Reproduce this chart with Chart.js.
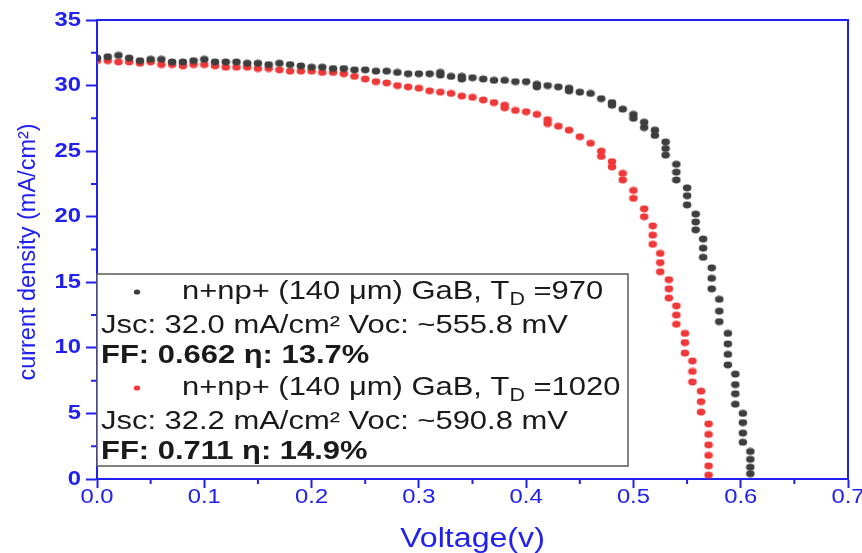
<!DOCTYPE html>
<html>
<head>
<meta charset="utf-8">
<script src="https://cdn.jsdelivr.net/npm/chart.js@4"></script>
<style>
html,body{margin:0;padding:0;background:#fff;}
#wrap{width:862px;height:553px;position:relative;}
</style>
</head>
<body>
<div id="wrap"><canvas id="c" width="862" height="553"></canvas></div>
<script>
// ---- data ----
const blackV = [0.000,0.010,0.020,0.030,0.040,0.050,0.060,0.070,0.080,0.090,0.100,0.110,0.120,0.130,0.140,0.150,0.160,0.170,0.180,0.190,0.200,0.210,0.220,0.230,0.240,0.250,0.260,0.270,0.280,0.290,0.300,0.310,0.320,0.320,0.330,0.340,0.340,0.350,0.360,0.370,0.380,0.390,0.400,0.410,0.410,0.420,0.430,0.440,0.440,0.450,0.460,0.470,0.480,0.480,0.490,0.500,0.500,0.510,0.510,0.520,0.520,0.530,0.530,0.530,0.540,0.540,0.540,0.550,0.550,0.550,0.558,0.558,0.558,0.565,0.565,0.565,0.573,0.573,0.573,0.580,0.580,0.580,0.588,0.588,0.588,0.588,0.595,0.595,0.595,0.595,0.602,0.602,0.602,0.602,0.609,0.609,0.609,0.609];
const blackJ = [32.1,32.2,32.3,32.1,31.9,32.0,32.0,31.8,31.8,31.9,32.0,31.8,31.8,31.8,31.7,31.7,31.6,31.7,31.6,31.5,31.4,31.4,31.3,31.3,31.2,31.2,31.1,31.1,31.0,30.9,30.9,30.9,30.8,31.0,30.7,30.7,30.5,30.6,30.5,30.4,30.4,30.3,30.3,30.1,29.9,30.0,29.9,29.8,29.6,29.5,29.4,29.0,28.7,28.5,28.2,27.8,27.5,27.2,26.8,26.6,26.2,25.7,25.2,24.7,24.0,23.4,22.8,22.2,21.6,20.9,20.2,19.6,19.0,18.3,17.6,16.9,16.1,15.3,14.5,13.7,12.8,12.0,11.1,10.3,9.5,8.7,8.0,7.2,6.5,5.7,5.0,4.3,3.5,2.8,2.1,1.5,0.9,0.4];

const redV = [0.000,0.010,0.020,0.030,0.040,0.050,0.060,0.070,0.080,0.090,0.100,0.110,0.120,0.130,0.140,0.150,0.160,0.170,0.180,0.190,0.200,0.210,0.220,0.230,0.240,0.250,0.260,0.270,0.280,0.290,0.300,0.310,0.320,0.330,0.340,0.350,0.360,0.370,0.380,0.380,0.390,0.400,0.410,0.420,0.420,0.430,0.440,0.450,0.460,0.470,0.470,0.480,0.480,0.490,0.490,0.500,0.500,0.510,0.510,0.518,0.518,0.518,0.525,0.525,0.525,0.533,0.533,0.533,0.540,0.540,0.540,0.548,0.548,0.548,0.555,0.555,0.555,0.563,0.563,0.563,0.570,0.570,0.570,0.570,0.570,0.570];
const redJ = [31.9,31.9,31.8,31.8,31.7,31.8,31.6,31.6,31.5,31.6,31.6,31.5,31.4,31.4,31.4,31.3,31.3,31.2,31.1,31.1,31.1,31.0,31.0,30.9,30.7,30.5,30.3,30.2,30.0,29.9,29.8,29.6,29.5,29.4,29.2,29.1,28.9,28.7,28.5,28.3,28.1,28.0,27.8,27.4,27.1,26.9,26.6,26.1,25.6,25.0,24.6,24.2,23.8,23.3,22.8,22.0,21.4,20.6,20.0,19.3,18.6,17.9,17.2,16.5,15.8,15.2,14.5,13.8,13.2,12.5,11.8,11.1,10.4,9.6,9.0,8.2,7.4,6.7,5.9,5.1,4.2,3.4,2.6,1.8,1.0,0.3];

const xTickLabels = ['0.0','0.1','0.2','0.3','0.4','0.5','0.6','0.7'];
const yTickLabels = ['0','5','10','15','20','25','30','35'];

const seriesNames = ['n+np+ (140 μm) GaB, T', 'n+np+ (140 μm) GaB, T'];
const seriesSubs = ['D', 'D'];
const seriesTails = [' =970', ' =1020'];
const statLines = ['Jsc: 32.0 mA/cm² Voc: ~555.8 mV', 'Jsc: 32.2 mA/cm² Voc: ~590.8 mV'];
const boldLines = ['FF: 0.662 η: 13.7%', 'FF: 0.711 η: 14.9%'];
const seriesColors = ['#3e3e3e', '#f03838'];

const xTitle = 'Voltage(v)';
const yTitle = 'current density (mA/cm²)';

const toPts = (v, j) => v.map((x, i) => ({x: x, y: j[i]}));

const AX = '#2020f0';
const FONT = '"Liberation Sans", Arial, sans-serif';
const SX = 1.19; // horizontal text stretch seen in the picture

function dot(color) {
  const c = document.createElement('canvas');
  c.width = 10; c.height = 8;
  const g = c.getContext('2d');
  g.fillStyle = color;
  g.beginPath(); g.ellipse(5, 4, 4.3, 3.4, 0, 0, Math.PI * 2); g.fill();
  return c;
}

function sText(ctx, t, x, y, align, font, color) {
  ctx.save();
  ctx.translate(x, y);
  ctx.scale(SX, 1);
  ctx.font = font;
  ctx.fillStyle = color;
  ctx.textAlign = align;
  ctx.textBaseline = 'middle';
  ctx.fillText(t, 0, 0);
  ctx.restore();
}

const axisDeco = {
  id: 'axisDeco',
  afterDraw(chart) {
    const ctx = chart.ctx, a = chart.chartArea;
    const xs = chart.scales.x, ys = chart.scales.y;
    ctx.save();
    ctx.strokeStyle = AX;
    ctx.lineWidth = 2;
    ctx.beginPath();
    ctx.moveTo(a.left, a.top); ctx.lineTo(a.right, a.top); ctx.lineTo(a.right, a.bottom);
    ctx.stroke();
    ctx.beginPath();
    for (let i = 0; i < xTickLabels.length - 1; i++) {
      const v = (parseFloat(xTickLabels[i]) + parseFloat(xTickLabels[i + 1])) / 2;
      const px = xs.getPixelForValue(v);
      ctx.moveTo(px, a.bottom); ctx.lineTo(px, a.bottom + 5);
    }
    for (let i = 0; i < yTickLabels.length - 1; i++) {
      const v = (parseFloat(yTickLabels[i]) + parseFloat(yTickLabels[i + 1])) / 2;
      const py = ys.getPixelForValue(v);
      ctx.moveTo(a.left, py); ctx.lineTo(a.left - 6, py);
    }
    ctx.stroke();
    ctx.restore();
    // tick labels
    xTickLabels.forEach(l => sText(ctx, l, xs.getPixelForValue(parseFloat(l)), 497, 'center', '20px ' + FONT, AX));
    yTickLabels.forEach(l => sText(ctx, l, 81, ys.getPixelForValue(parseFloat(l)), 'right', 'bold 20px ' + FONT, AX));
    // titles
    sText(ctx, xTitle, (a.left + a.right) / 2, 540, 'center', '27px ' + FONT, AX);
    ctx.save();
    ctx.translate(29, 252);
    ctx.rotate(-Math.PI / 2);
    ctx.font = '23.5px ' + FONT;
    ctx.fillStyle = AX;
    ctx.textAlign = 'center';
    ctx.textBaseline = 'middle';
    ctx.fillText(yTitle, 0, 0);
    ctx.restore();
  }
};

const legendBox = {
  id: 'legendBox',
  afterDraw(chart) {
    const ctx = chart.ctx;
    const bx = 97, by = 274, bw = 531, bh = 192;
    ctx.save();
    ctx.fillStyle = '#fff';
    ctx.fillRect(bx, by, bw, bh);
    ctx.strokeStyle = '#5a5a5a';
    ctx.lineWidth = 1.5;
    ctx.strokeRect(bx, by, bw, bh);
    ctx.restore();
    const rowY = [[292, 326, 356], [388, 422, 452]];
    const TXT = '#1a1a1a';
    for (let s = 0; s < 2; s++) {
      const [y0, y1, y2] = rowY[s];
      ctx.save();
      ctx.fillStyle = seriesColors[s];
      ctx.beginPath(); ctx.ellipse(137, y0, 3.2, 2.6, 0, 0, Math.PI * 2); ctx.fill();
      ctx.restore();
      let x = 182;
      ctx.save(); ctx.font = '26px ' + FONT;
      const w1 = ctx.measureText(seriesNames[s]).width * SX;
      ctx.font = '18px ' + FONT;
      const w2 = ctx.measureText(seriesSubs[s]).width * SX;
      ctx.restore();
      sText(ctx, seriesNames[s], x, y0, 'left', '26px ' + FONT, TXT);
      sText(ctx, seriesSubs[s], x + w1, y0 + 8, 'left', '18px ' + FONT, TXT);
      sText(ctx, seriesTails[s], x + w1 + w2, y0, 'left', '26px ' + FONT, TXT);
      sText(ctx, statLines[s], 101, y1, 'left', '26px ' + FONT, TXT);
      sText(ctx, boldLines[s], 101, y2, 'left', 'bold 26px ' + FONT, TXT);
    }
  }
};

new Chart(document.getElementById('c'), {
  type: 'scatter',
  data: {
    datasets: [
      {data: toPts(blackV, blackJ), pointStyle: dot(seriesColors[0]), backgroundColor: seriesColors[0], borderColor: seriesColors[0], pointRadius: 4, borderWidth: 0},
      {data: toPts(redV, redJ), pointStyle: dot(seriesColors[1]), backgroundColor: seriesColors[1], borderColor: seriesColors[1], pointRadius: 4, borderWidth: 0}
    ]
  },
  options: {
    responsive: false,
    animation: false,
    layout: {padding: {top: 20, right: 14, left: 0, bottom: 0}},
    plugins: {legend: {display: false}, tooltip: {enabled: false}},
    scales: {
      x: {
        type: 'linear', min: 0, max: 0.7,
        afterFit(s) { s.height = 74; },
        ticks: {display: false, stepSize: 0.1},
        grid: {drawOnChartArea: false, color: AX, tickLength: 9, tickWidth: 2, tickColor: AX},
        border: {color: AX, width: 2},
        title: {display: false}
      },
      y: {
        type: 'linear', min: 0, max: 35,
        afterFit(s) { s.width = 97; },
        ticks: {display: false, stepSize: 5},
        grid: {drawOnChartArea: false, color: AX, tickLength: 11, tickWidth: 2, tickColor: AX},
        border: {color: AX, width: 2},
        title: {display: false}
      }
    }
  },
  plugins: [axisDeco, legendBox]
});
</script>
</body>
</html>
